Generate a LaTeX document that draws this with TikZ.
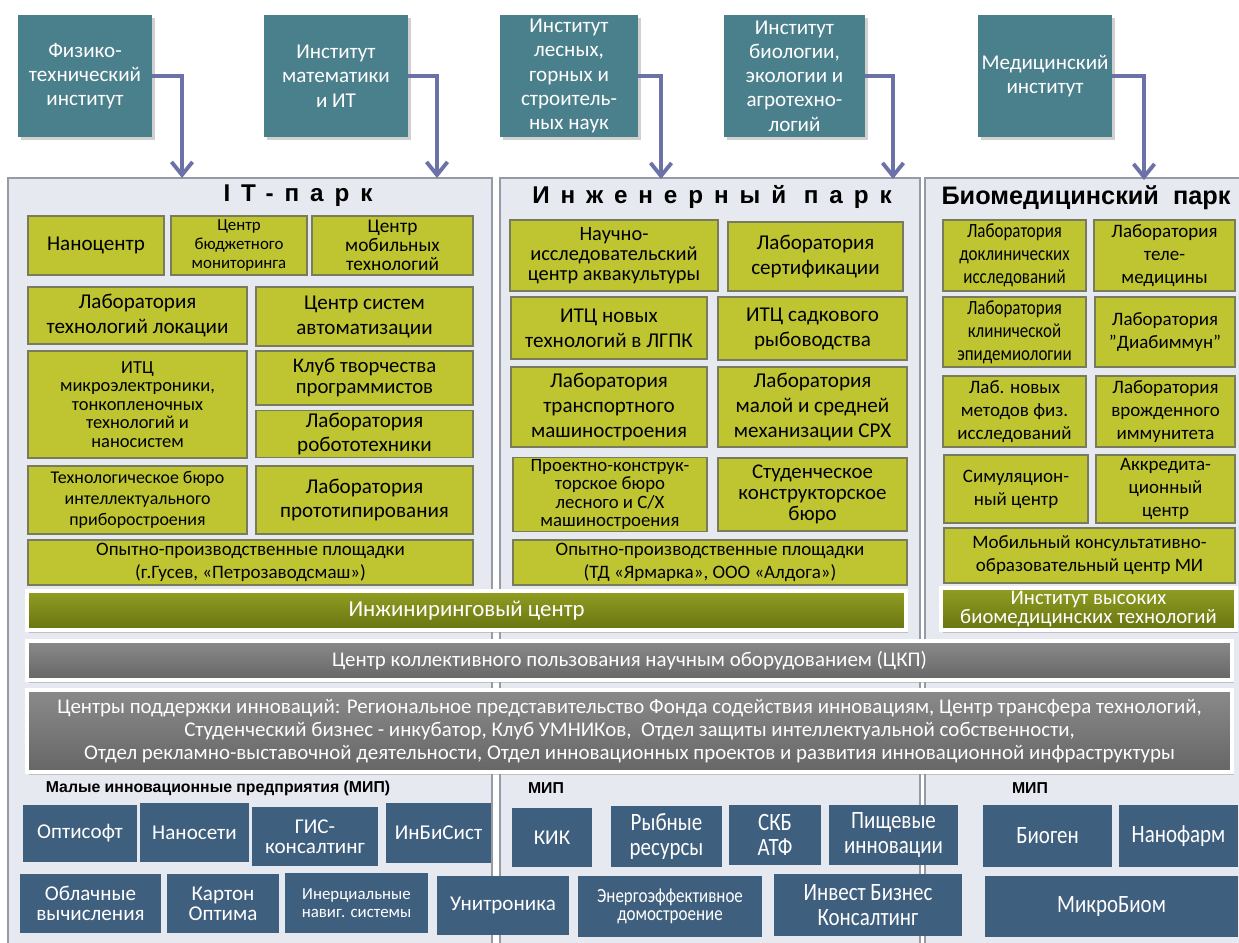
\documentclass[tikz,border=0pt]{standalone}
\usepackage{fontspec}
\setmainfont{Carlito}
\newfontfamily\narrowfont[FakeStretch=0.84]{Carlito}
\newfontfamily\titlefont[LetterSpace=45]{Liberation Sans}
\newfontfamily\plainhead{Liberation Sans}
\usetikzlibrary{arrows.meta,shadows}
\definecolor{instteal}{RGB}{74,127,140}
\definecolor{parkbg}{RGB}{231,233,240}
\definecolor{parkline}{RGB}{150,154,165}
\definecolor{labgreen}{RGB}{190,197,49}
\definecolor{labline}{RGB}{120,124,92}
\definecolor{olivetop}{RGB}{145,158,34}
\definecolor{olivebot}{RGB}{104,116,16}
\definecolor{greytop}{RGB}{138,138,138}
\definecolor{greybot}{RGB}{102,102,102}
\definecolor{mipblue}{RGB}{62,95,126}
\definecolor{arrowc}{RGB}{108,114,168}
\newcommand{\finst}{\fontsize{12}{13.8}\selectfont}
\newcommand{\fbig}{\fontsize{12}{14.2}\selectfont}
\newcommand{\fmid}{\fontsize{10.2}{12}\selectfont}
\newcommand{\fsmall}{\fontsize{9.6}{10.6}\selectfont}
\newcommand{\fbio}{\fontsize{10.8}{13}\selectfont}
\newcommand{\fmip}{\fontsize{12}{11.6}\selectfont}
\newcommand{\fmipn}{\fontsize{14.2}{14}\selectfont}

\begin{document}
\begin{tikzpicture}[x=0.02cm, y=-0.02cm,
  every node/.style={align=center, inner sep=1pt},
  cell/.style args={#1/#2/#3/#4}{at={({(#1+#3)/2},{(#2+#4)/2})},
    minimum width={(#3-#1)*0.02cm}, minimum height={(#4-#2)*0.02cm}},
  inst/.style={fill=instteal, text=white, font=\finst,
    drop shadow={shadow xshift=0.05cm, shadow yshift=-0.06cm, fill=black!30, opacity=0.6}},
  park/.style={fill=parkbg, draw=parkline, line width=0.6pt},
  lab/.style={fill=labgreen, draw=labline, line width=0.6pt, font=\fbig},
  bar/.style={draw=white, line width=2pt, text=white,
    drop shadow={shadow xshift=0.03cm, shadow yshift=-0.05cm, fill=black!40, opacity=0.5}},
  olivebar/.style={bar, top color=olivetop, bottom color=olivebot},
  greybar/.style={bar, top color=greytop, bottom color=greybot},
  mip/.style={fill=mipblue, text=white, font=\fmip},
  nmip/.style={mip, font=\narrowfont\fmipn},
  edge/.style={-{Straight Barb[length=2.6mm, width=4.2mm]}, line width=2.2pt, draw=arrowc},
  head/.style={font=\titlefont\bfseries\fontsize{13.8}{15}\selectfont},
  miphead/.style={font=\plainhead\bfseries\fontsize{9}{10}\selectfont}]
  \useasboundingbox[fill=white] (0,0) rectangle (1239,942);

  % three parks
  \node[park, cell=8/178/492/950] (itpark) {};
  \node[park, cell=500/178/920/950] (engpark) {};
  \node[park, cell=925/178/1250/950] (biopark) {};
  \node[head] (ittitle) at (298,196) {IT-парк};
  \node[head] (engtitle) at (712,197) {Инженерный парк};
  \node[font=\plainhead\bfseries\fontsize{14.4}{16}\selectfont] (biotitle) at (1086,198) {Биомедицинский~~парк};

  % institutes on top
  \node[inst, cell=18/15/152/137] (phys) {Физико-\\технический\\институт};
  \node[inst, cell=264/15/408/137] (math) {Институт\\математики\\и ИТ};
  \node[inst, cell=500/15/638/137] (forest) {Институт\\лесных,\\горных и\\строитель-\\ных наук};
  \node[inst, cell=724/15/865/137] (biol) {Институт\\биологии,\\экологии и\\агротехно-\\логий};
  \node[inst, cell=978/15/1112/137] (med) {Медицинский\\институт};
  \coordinate (a1) at (182,178);
  \coordinate (a2) at (437,178);
  \coordinate (a3) at (661,179);
  \coordinate (a4) at (893,179);
  \coordinate (a5) at (1144,180);
  \draw[edge] (phys.east) -| (a1);
  \draw[edge] (math.east) -| (a2);
  \draw[edge] (forest.east) -| (a3);
  \draw[edge] (biol.east) -| (a4);
  \draw[edge] (med.east) -| (a5);

  % IT park
  \node[lab, cell=28/216/164/275] (nano) {Наноцентр};
  \node[lab, cell=171/216/307/275, font=\fsmall] (budget) {Центр\\бюджетного\\мониторинга};
  \node[lab, cell=312/216/473/275, font=\fontsize{11}{10.8}\selectfont] (mobile) {Центр\\мобильных\\технологий};
  \node[lab, cell=28/287/247/344] (locat) {Лаборатория\\технологий локации};
  \node[lab, cell=256/287/473/346] (autom) {Центр систем\\автоматизации};
  \node[lab, cell=28/351/247/458, font=\fontsize{10.5}{10.6}\selectfont] (micro) {ИТЦ\\микроэлектроники,\\тонкопленочных\\технологий и\\наносистем};
  \node[lab, cell=256/351/473/405, font=\fontsize{11.8}{12}\selectfont] (club) {Клуб творчества\\программистов};
  \node[lab, cell=256/411/473/457] (robot) {Лаборатория\\робототехники};
  \node[lab, cell=28/466/247/534, font=\fmid] (techb) {Технологическое бюро\\интеллектуального\\приборостроения};
  \node[lab, cell=256/466/473/534] (proto) {Лаборатория\\прототипирования};
  \node[lab, cell=28/540/473/585, font=\fontsize{10.8}{13}\selectfont] (pilotit) {Опытно-производственные площадки\\(г.Гусев, «Петрозаводсмаш»)};

  % engineering park
  \node[lab, cell=510/220/718/291, font=\fontsize{11.6}{11.3}\selectfont] (aqua) {Научно-\\исследовательский\\центр аквакультуры};
  \node[lab, cell=728/222/903/291] (cert) {Лаборатория\\сертификации};
  \node[lab, cell=511/297/707/359] (lgpk) {ИТЦ новых\\технологий в ЛГПК};
  \node[lab, cell=718/297/907/360] (fishery) {ИТЦ садкового\\рыбоводства};
  \node[lab, cell=511/367/707/447] (transp) {Лаборатория\\транспортного\\машиностроения};
  \node[lab, cell=718/367/907/447] (mech) {Лаборатория\\малой и средней\\механизации СРХ};
  \node[lab, cell=513/458/707/531, font=\fontsize{10.7}{10.6}\selectfont] (design) {Проектно-конструк-\\торское бюро\\лесного и С/Х\\машиностроения};
  \node[lab, cell=718/458/907/531, font=\fontsize{11.9}{11.8}\selectfont] (student) {Студенческое\\конструкторское\\бюро};
  \node[lab, cell=513/540/907/585, font=\fontsize{10.8}{13}\selectfont] (piloteng) {Опытно-производственные площадки\\(ТД «Ярмарка», ООО «Алдога»)};

  % biomedical park
  \node[lab, cell=943/220/1086/291, font=\narrowfont\fontsize{11.5}{13}\selectfont] (preclin) {Лаборатория\\доклинических\\исследований};
  \node[lab, cell=1094/220/1235/291, font=\fbio] (tele) {Лаборатория\\теле-\\медицины};
  \node[lab, cell=943/297/1086/367, font=\narrowfont\fontsize{11.5}{13}\selectfont] (epid) {Лаборатория\\клинической\\эпидемиологии};
  \node[lab, cell=1095/297/1235/367, font=\fbio] (diab) {Лаборатория\\"Диабиммун"};
  \node[lab, cell=943/376/1086/447, font=\fbio] (newmeth) {Лаб. новых\\методов физ.\\исследований};
  \node[lab, cell=1096/376/1235/447, font=\fbio] (immun) {Лаборатория\\врожденного\\иммунитета};
  \node[lab, cell=944/455/1088/523, font=\fbio] (simul) {Симуляцион-\\ный центр};
  \node[lab, cell=1096/455/1235/523, font=\fbio] (accr) {Аккредита-\\ционный\\центр};
  \node[lab, cell=944/528/1235/583, font=\fbio] (mobcons) {Мобильный консультативно-\\образовательный центр МИ};

  % common bars
  \node[olivebar, cell=27/591/906/630, font=\fontsize{13}{15}\selectfont] (engcent) {Инжиниринговый центр};
  \node[olivebar, cell=941/588/1236/630, font=\fontsize{11.8}{11.2}\selectfont] (hightech) {Институт высоких\\биомедицинских технологий};
  \node[greybar, cell=27/641/1232/680, font=\fontsize{11.9}{14}\selectfont] (ckp) {Центр коллективного пользования научным оборудованием (ЦКП)};
  \node[greybar, cell=27/690/1232/772, font=\fontsize{11.9}{13.1}\selectfont] (support) {Центры поддержки инноваций: Региональное представительство Фонда содействия инновациям, Центр трансфера технологий,\\Студенческий бизнес - инкубатор, Клуб УМНИКов,\ \ Отдел защиты интеллектуальной собственности,\\Отдел рекламно-выставочной деятельности, Отдел инновационных проектов и развития инновационной инфраструктуры};

  % small innovative enterprises
  \node[miphead] (miplab) at (218,788) {Малые инновационные предприятия (МИП)};
  \node[miphead] (mipeng) at (546,788) {МИП};
  \node[miphead] (mipbio) at (1030,788) {МИП};
  \node[mip, cell=23/805/137/862] (optisoft) {Оптисофт};
  \node[mip, cell=140/803/249/862] (nanoseti) {Наносети};
  \node[mip, cell=252/807/378/866] (gis) {ГИС-\\консалтинг};
  \node[mip, cell=386/803/491/863] (inbisist) {ИнБиСист};
  \node[mip, cell=20/874/161/933] (cloud) {Облачные\\вычисления};
  \node[mip, cell=167/874/279/933] (karton) {Картон\\Оптима};
  \node[mip, cell=285/873/428/933, font=\fsmall] (inert) {Инерциальные\\навиг. системы};
  \node[mip, cell=437/876/569/935] (unitr) {Унитроника};
  \node[mip, cell=512/808/592/867] (kik) {КИК};
  \node[nmip, cell=611/806/722/867] (fishres) {Рыбные\\ресурсы};
  \node[nmip, cell=729/805/821/865] (skb) {СКБ\\АТФ};
  \node[nmip, cell=829/805/958/865] (food) {Пищевые\\инновации};
  \node[mip, cell=578/876/762/937, font=\narrowfont\fontsize{11.5}{10.6}\selectfont] (energ) {Энергоэффективное\\домостроение};
  \node[nmip, cell=774/874/962/936] (invest) {Инвест Бизнес\\Консалтинг};
  \node[nmip, cell=983/805/1112/867] (biogen) {Биоген};
  \node[nmip, cell=1119/805/1238/867] (nanopharm) {Нанофарм};
  \node[nmip, cell=985/876/1238/937] (microbiom) {МикроБиом};
\end{tikzpicture}
\end{document}
